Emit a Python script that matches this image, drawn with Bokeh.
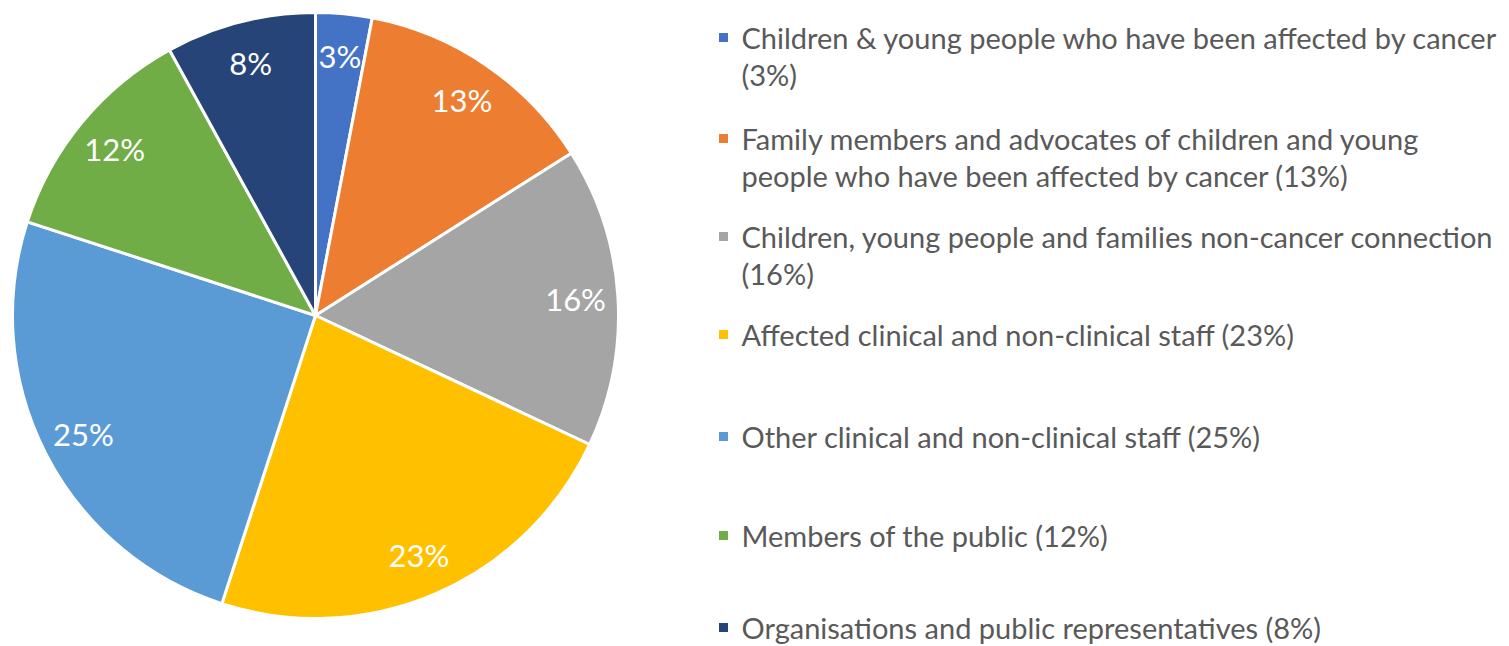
import math
from bokeh.plotting import figure
from bokeh.models import ColumnDataSource, Range1d
from bokeh.core.properties import value
from bokeh.embed import file_html
from bokeh.resources import INLINE

# ---- data ----
categories = [
    "Children & young people who have been affected by cancer",
    "Family members and advocates of children and young people who have been affected by cancer",
    "Children, young people and families non-cancer connection",
    "Affected clinical and non-clinical staff",
    "Other clinical and non-clinical staff",
    "Members of the public",
    "Organisations and public representatives",
]
shares = [3, 13, 16, 23, 25, 12, 8]
colors = ["#4472C4", "#ED7D31", "#A5A5A5", "#FFC000", "#5B9BD5", "#70AD47", "#264478"]
legend_lines = [
    ["Children & young people who have been affected by cancer", "(3%)"],
    ["Family members and advocates of children and young", "people who have been affected by cancer (13%)"],
    ["Children, young people and families non-cancer connection", "(16%)"],
    ["Affected clinical and non-clinical staff (23%)"],
    ["Other clinical and non-clinical staff (25%)"],
    ["Members of the public (12%)"],
    ["Organisations and public representatives (8%)"],
]

W, H = 1509, 646
p = figure(width=W, height=H, output_backend="svg", toolbar_location=None,
           x_range=Range1d(0, W), y_range=Range1d(0, H), min_border=0)
p.axis.visible = False
p.grid.visible = False
p.outline_line_color = None
p.background_fill_color = "white"
p.border_fill_color = "white"

def fy(img_y):
    return H - img_y

cx, cy = 315, fy(315)
R = 303
total = float(sum(shares))
cum = [0.0]
for s in shares:
    cum.append(cum[-1] + s / total)
starts = [math.pi / 2 - 2 * math.pi * cum[i + 1] for i in range(len(shares))]
ends = [math.pi / 2 - 2 * math.pi * cum[i] for i in range(len(shares))]
src = ColumnDataSource(dict(start=starts, end=ends, color=colors))
p.wedge(x=cx, y=cy, radius=R, start_angle="start", end_angle="end",
        fill_color="color", line_color="white", line_width=3, source=src)

# labels
lx, ly, lt = [], [], []
for i, s in enumerate(shares):
    mid = 2 * math.pi * (cum[i] + cum[i + 1]) / 2
    rr = 0.86 * R
    lx.append(cx + rr * math.sin(mid))
    ly.append(cy + rr * math.cos(mid))
    lt.append(f"{s}%")
p.text(x=lx, y=ly, text=lt, text_color="white", text_font=value("Lato"),
       text_font_size="31px", text_align="center", text_baseline="middle")

# legend
entry_centers = [37, 138, 236, 334, 436, 535, 627]
line_gap = 37
tx, ty, tt = [], [], []
sx, sy = [], []
for i, lines in enumerate(legend_lines):
    y0 = entry_centers[i]
    sx.append(723)
    sy.append(fy(y0))
    for j, ln in enumerate(lines):
        tx.append(741)
        ty.append(fy(y0 + j * line_gap))
        tt.append(ln)
p.rect(x=sx, y=sy, width=9, height=9, width_units="screen", height_units="screen",
       fill_color=colors, line_color=None)
p.text(x=tx, y=ty, text=tt, text_color="#595959", text_font=value("Lato"),
       text_font_size="29px", text_align="left", text_baseline="middle")

open("out.html", "w").write(file_html(p, INLINE))
